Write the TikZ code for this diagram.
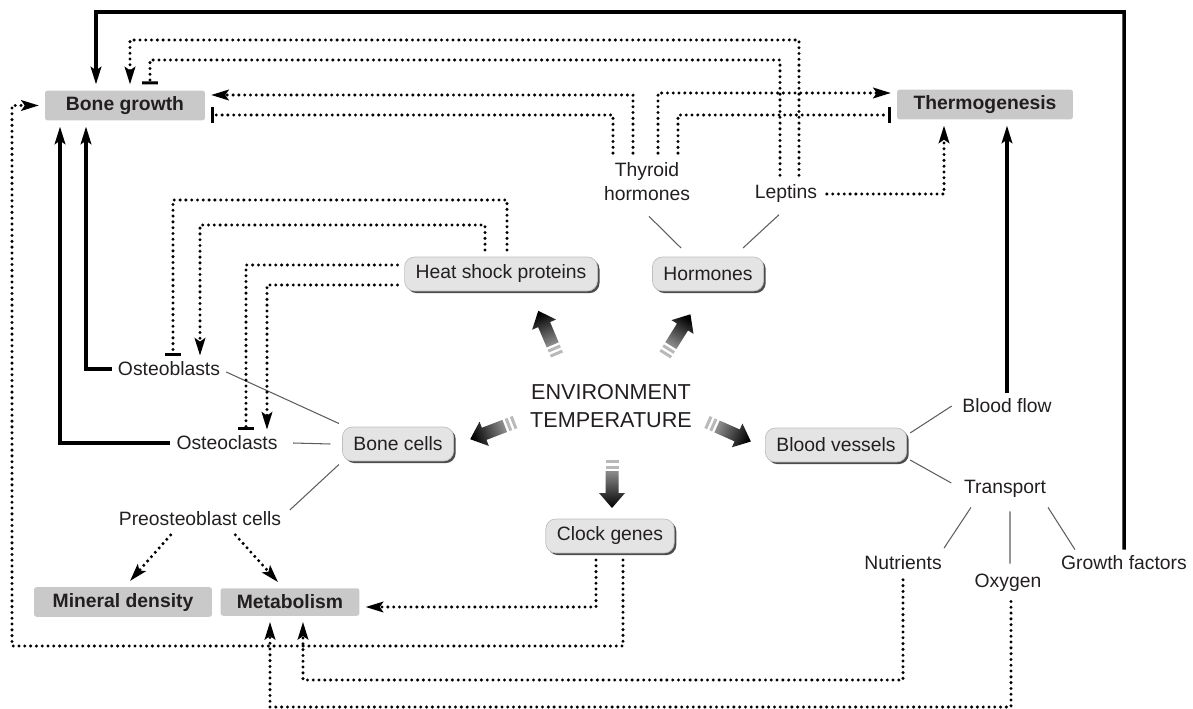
\documentclass[tikz,border=0pt]{standalone}
\usepackage{fontspec}
\setmainfont{Liberation Sans}
\usetikzlibrary{arrows.meta,shadows}
\definecolor{txt}{HTML}{231F20}
\definecolor{outgray}{HTML}{C9C9C9}
\definecolor{midgray}{HTML}{E4E4E5}
\definecolor{thingray}{HTML}{5E5E5E}
\begin{document}
\begin{tikzpicture}[x=0.02cm, y=-0.02cm,
  every node/.style={font=\fontsize{11}{13.7}\selectfont, text=txt},
  outbox/.style={fill=outgray, rounded corners=1.5pt, font=\fontsize{11}{13.7}\selectfont\bfseries, minimum height=0.55cm, outer sep=3.5pt},
  midbox/.style={fill=midgray, draw=black!25, line width=0.4pt, rounded corners=0.2cm, minimum height=0.68cm, inner xsep=0.22cm, outer sep=2pt, drop shadow={shadow xshift=1.2pt, shadow yshift=-1.2pt, opacity=1, fill=black!70}},
  dotline/.style={draw=black, line width=1.9pt, dash pattern=on 0pt off 3.3pt, line cap=round, shorten <=2pt},
  solidline/.style={draw=black, line width=2pt},
  thinline/.style={draw=thingray, line width=0.6pt},
  act/.style={-{Stealth[length=10pt, width=6pt, inset=2pt]}},
  inh/.style={-{Bar[width=9pt, line width=1.7pt]}},
  blockarr/.pic={
    \fill [gray!55] (0,-6.5) rectangle (3,6.5);
    \fill [gray!55] (5.5,-6.5) rectangle (8.5,6.5);
    \shade [top color=black, bottom color=black!45, shading angle=#1] (11,-6.5) -- (33,-6.5) -- (33,-13) -- (48,0) -- (33,13) -- (33,6.5) -- (11,6.5) -- cycle;
  }]
\useasboundingbox (0,0) rectangle (1193,709);

\node [outbox, minimum width=3.2cm] (bg) at (125,105.5) {Bone growth};
\node [outbox, minimum width=3.52cm] (thermo) at (985,104.5) {Thermogenesis};
\node [outbox, minimum width=3.56cm] (mineral) at (123,602) {Mineral density};
\node [outbox, minimum width=2.78cm] (metab) at (290,602) {Metabolism};

\node [midbox] (hsp) at (501,274) {Heat shock proteins};
\node [midbox] (horm) at (708,274) {Hormones};
\node [midbox] (bcells) at (398,444) {Bone cells};
\node [midbox] (bvessels) at (836,445) {Blood vessels};
\node [midbox] (clock) at (610,536) {Clock genes};

\node [align=center, font=\fontsize{12.3}{16}\selectfont] (env) at (611,406) {ENVIRONMENT\\TEMPERATURE};
\node [align=center] (thy) at (647,182) {Thyroid\\hormones};
\node [] (lep) at (786,194) {Leptins};
\node [] (oblast) at (169,369) {Osteoblasts};
\node [] (oclast) at (227,443) {Osteoclasts};
\node [] (preo) at (200,519) {Preosteoblast cells};
\node [] (bflow) at (1007,406) {Blood flow};
\node [] (transp) at (1005,489) {Transport};
\node [] (nutr) at (903,563) {Nutrients};
\node [] (oxy) at (1008,583) {Oxygen};
\node [] (gf) at (1124,563) {Growth factors};

\pic [rotate=113] at (557,355) {blockarr=23};
\pic [rotate=58] at (665,355) {blockarr=-32};
\pic [rotate=201] at (515,422) {blockarr=111};
\pic [rotate=-24] at (707,422) {blockarr=-114};
\pic [rotate=-90] at (612,460) {blockarr=-180};

\draw [thinline] ([xshift=0.04cm, yshift=-0.18cm]thy.south) -- ([xshift=-0.54cm, yshift=0.11cm]horm.north);
\draw [thinline] ([xshift=-0.14cm, yshift=-0.11cm]lep.south) -- ([xshift=0.7cm, yshift=0.11cm]horm.north);
\draw [thinline] (bcells.north west) -- ([yshift=-0.06cm]oblast.east);
\draw [thinline] ([xshift=-0.17cm]bcells.west) -- ([xshift=0.19cm]oclast.east);
\draw [thinline] (bcells.south west) -- ([xshift=0.05cm, yshift=0.18cm]preo.east);
\draw [thinline] ([yshift=-0.17cm]bvessels.north east) -- ([xshift=-0.09cm]bflow.west);
\draw [thinline] ([yshift=0.11cm]bvessels.south east) -- ([xshift=-0.13cm, yshift=0.12cm]transp.west);
\draw [thinline] ([xshift=-0.68cm, yshift=-0.07cm]transp.south) -- ([xshift=0.82cm, yshift=0.03cm]nutr.north);
\draw [thinline] ([xshift=0.1cm, yshift=-0.15cm]transp.south) -- ([xshift=0.04cm, yshift=0.09cm]oxy.north);
\draw [thinline] ([xshift=0.86cm, yshift=-0.07cm]transp.south) -- ([xshift=-0.98cm]gf.north);

\draw [solidline, act] (oblast.west) -| ([xshift=-0.78cm]bg.south);
\draw [solidline, act] (oclast.west) -| ([xshift=-1.3cm]bg.south);
\draw [solidline, act] (bflow.north) -- (bflow.north |- thermo.south);
\draw [solidline, act] (gf.north) |- (96,12) -- ([xshift=-0.58cm]bg.north);

\draw [dotline, inh] ([xshift=-0.68cm]thy.north) |- ([yshift=-0.19cm]bg.east);
\draw [dotline, act] ([xshift=-0.28cm]thy.north) |- ([yshift=0.21cm]bg.east);
\draw [dotline, act] ([xshift=0.22cm]thy.north) |- ([yshift=0.23cm]thermo.west);
\draw [dotline, inh] ([xshift=0.62cm]thy.north) |- ([yshift=-0.21cm]thermo.west);
\draw [dotline, inh] ([xshift=-0.12cm]lep.north) |- (150,60) -- ([xshift=0.5cm]bg.north);
\draw [dotline, act] ([xshift=0.26cm]lep.north) |- (130,40) -- ([xshift=0.1cm]bg.north);
\draw [dotline, act] (lep.east) -| ([xshift=-0.82cm]thermo.south);
\draw [dotline, inh] ([xshift=0.12cm]hsp.north) |- (173,200) -- ([xshift=0.08cm]oblast.north);
\draw [dotline, act] ([xshift=-0.32cm]hsp.north) |- (200,225) -- ([xshift=0.62cm]oblast.north);
\draw [dotline, inh] ([yshift=0.18cm]hsp.west) -| ([xshift=0.38cm]oclast.north);
\draw [dotline, act] ([yshift=-0.22cm]hsp.west) -| ([xshift=0.8cm]oclast.north);
\draw [dotline, act] ([xshift=-0.28cm]clock.south) |- ([yshift=-0.1cm]metab.east);
\draw [dotline, act] ([xshift=0.26cm]clock.south) |- (12,646) |- (bg.west);
\draw [dotline, act] (nutr.south) |- (303,680) -- ([xshift=0.26cm]metab.south);
\draw [dotline, act] ([xshift=0.06cm]oxy.south) |- (270,707) -- ([xshift=-0.4cm]metab.south);
\draw [dotline, act] ([xshift=-0.54cm]preo.south) -- ([xshift=0.14cm]mineral.north);
\draw [dotline, act] ([xshift=0.66cm]preo.south) -- ([xshift=-0.24cm]metab.north);
\end{tikzpicture}
\end{document}
